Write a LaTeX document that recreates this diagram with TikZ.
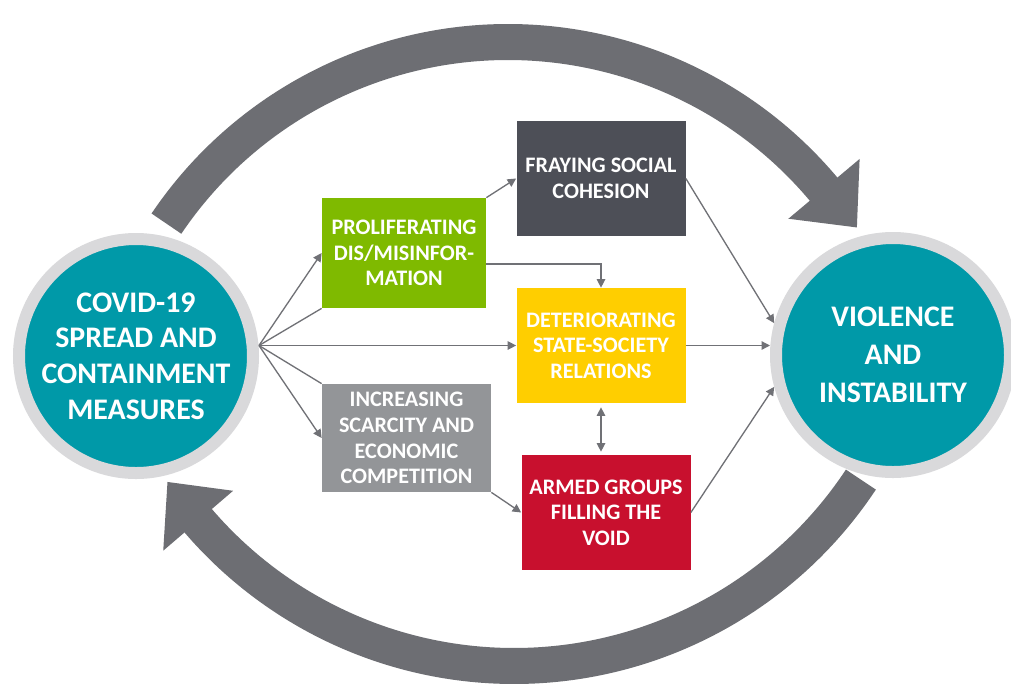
\documentclass[tikz,border=0pt]{standalone}
\usepackage{fontspec}
\setmainfont{Carlito}
\usetikzlibrary{arrows.meta}

\definecolor{ringgray}{RGB}{217,217,219}
\definecolor{circteal}{RGB}{0,153,168}
\definecolor{arrowgray}{RGB}{109,110,115}
\definecolor{linkgray}{RGB}{112,113,118}
\definecolor{greenbox}{RGB}{127,186,0}
\definecolor{darkbox}{RGB}{77,79,87}
\definecolor{yellowbox}{RGB}{255,206,0}
\definecolor{graybox}{RGB}{147,149,152}
\definecolor{redbox}{RGB}{200,16,46}

\begin{document}
\begin{tikzpicture}[x=0.2mm,y=-0.2mm]

      \tikzset{hub/.style={circle, draw=ringgray, line width=2.4mm, fill=circteal, minimum size=46.8mm, inner sep=0pt, text=white, align=center, font=\bfseries\fontsize{17}{20.3}\selectfont},
               factor/.style={minimum width=33.8mm, minimum height=23mm, inner sep=0pt, text=white, align=center, font=\bfseries\fontsize{12.6}{14.6}\selectfont},
               conn/.style={draw=linkgray, line width=0.75pt, -{Triangle[length=1.7mm,width=1.7mm]}},
               band/.style={draw=arrowgray, line width=7.2mm}}

      \fill[white] (0,0) rectangle (1011,683);
      \useasboundingbox (0,0) rectangle (1011,683);
      \clip (0,0) rectangle (1011,683);

%% Feedback arrows
      \coordinate (ctop) at (508,454);
      \coordinate (cbot) at (514,250);
      \draw[band] (ctop) ++(-146:412) arc[start angle=-146, end angle=-38, radius=412];
      \fill[arrowgray] ([shift={(-40:459)}]ctop) -- ([shift={(-33:416)}]ctop) -- ([shift={(-40:366)}]ctop) -- cycle;
      \draw[band] (cbot) ++(33.5:416) arc[start angle=33.5, end angle=141.5, radius=416];
      \fill[arrowgray] ([shift={(139.4:462)}]cbot) -- ([shift={(146.2:417)}]cbot) -- ([shift={(139.4:370)}]cbot) -- cycle;

%% Circles
      \node[hub] (covid) at (136,356) {COVID-19\\SPREAD AND\\CONTAINMENT\\MEASURES};
      \node[hub, font=\bfseries\fontsize{17}{21.5}\selectfont] (violence) at (893,355) {VIOLENCE\\AND\\INSTABILITY};

%% Boxes
      \node[factor, fill=greenbox, minimum width=32.8mm, minimum height=22mm] (misinfo) at (404,253) {PROLIFERATING\\DIS/MISINFOR-\\MATION};
      \node[factor, fill=darkbox] (cohesion) at (601,178.5) {FRAYING SOCIAL\\COHESION};
      \node[factor, fill=yellowbox] (state) at (601,345.5) {DETERIORATING\\STATE-SOCIETY\\RELATIONS};
      \node[factor, fill=graybox, minimum height=21.6mm] (scarcity) at (406.5,438) {INCREASING\\SCARCITY AND\\ECONOMIC\\COMPETITION};
      \node[factor, fill=redbox] (armed) at (606,512.5) {ARMED GROUPS\\FILLING THE\\VOID};

%Edges
      \coordinate (fan) at (covid.east |- state.west);
      \draw[conn] (fan) -- (misinfo.west);
      \draw[conn, -] (fan) -- (misinfo.south west);
      \draw[conn] (fan) -- (state.west);
      \draw[conn, -] (fan) -- (scarcity.north west);
      \draw[conn] (fan) -- (scarcity.west);
      \draw[conn] (misinfo.north east) -- (cohesion.west);
      \draw[conn] ([yshift=-2.2mm]misinfo.east) -| (state.north);
      \draw[conn] (scarcity.south east) -- (armed.west);
      \draw[conn, {Triangle[length=1.7mm,width=1.7mm]}-{Triangle[length=1.7mm,width=1.7mm]}, shorten <=0.8mm, shorten >=0.6mm] (state.south) -- (state.south |- armed.north);
      \draw[conn] (cohesion.east) -- (violence.165);
      \draw[conn] (state.east) -- (state.east -| violence.west);
      \draw[conn] (armed.east) -- (violence.195);

\end{tikzpicture}
\end{document}
